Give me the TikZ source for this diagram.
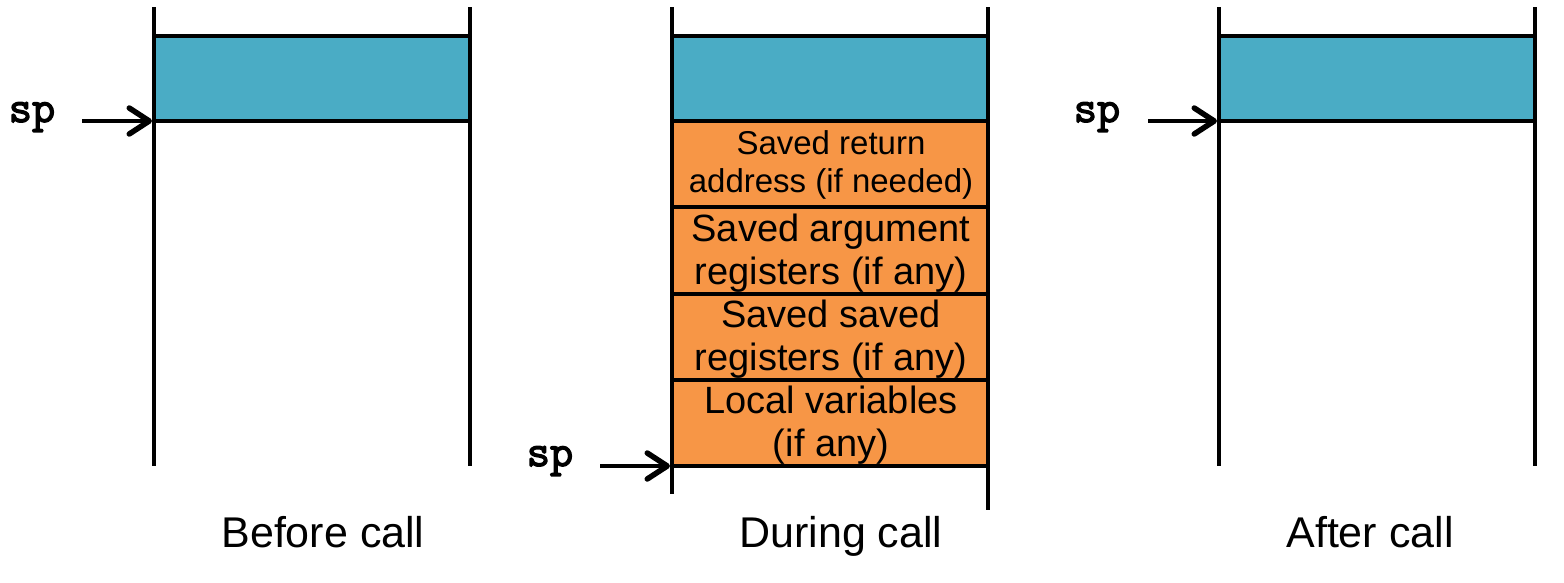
\documentclass[tikz,border=0pt]{standalone}
\usepackage{fontspec}
\setmainfont{Liberation Sans}
\newfontfamily\spfont[FakeBold=3]{Latin Modern Mono}
\usetikzlibrary{arrows.meta}
\definecolor{tealc}{HTML}{4AACC5}
\definecolor{orng}{HTML}{F79646}
\tikzset{
  wall/.style={line width=4pt},
  frame/.style={draw, line width=4pt},
  spl/.style={font=\spfont\fontsize{45}{45}\selectfont, inner sep=0pt, anchor=base},
  spar/.style={line width=4.5pt, -{Straight Barb[length=20pt,width=26pt,line width=5.5pt,line cap=round,line join=round]}, shorten >=2pt},
  lbl/.style={font=\fontsize{43}{43}\selectfont, inner sep=0pt, anchor=base},
  slot/.style={align=center, inner sep=0pt},
}
\begin{document}
\begin{tikzpicture}[x=1pt,y=-1pt]
\useasboundingbox (0,0) rectangle (1564,582);
% Before call
\filldraw[frame, fill=tealc] (154,36) rectangle (470,121);
\draw[wall] (154,7) -- (154,466);
\draw[wall] (470,7) -- (470,466);
\node[spl] (sp1) at (32,122) {sp};
\coordinate (t1) at (154,121);
\draw[spar] (82,121) -- (t1);
\node[lbl] (c1) at (323,547) {Before call};
% During call
\filldraw[frame, fill=tealc] (672,36) rectangle (988,121);
\filldraw[frame, fill=orng] (672,121) rectangle (988,207);
\filldraw[frame, fill=orng] (672,207) rectangle (988,294);
\filldraw[frame, fill=orng] (672,294) rectangle (988,380);
\filldraw[frame, fill=orng] (672,380) rectangle (988,466);
\draw[wall] (672,7) -- (672,494);
\draw[wall] (988,7) -- (988,510);
\node[slot, font=\fontsize{33}{38}\selectfont] (b1) at (831,165) {Saved return\\address (if needed)};
\node[slot, font=\fontsize{38}{43}\selectfont] (b2) at (831,253) {Saved argument\\registers (if any)};
\node[slot, font=\fontsize{38}{43}\selectfont] (b3) at (831,339) {Saved saved\\registers (if any)};
\node[slot, font=\fontsize{38}{43}\selectfont] (b4) at (831,425) {Local variables\\(if any)};
\node[spl] (sp2) at (550,466) {sp};
\coordinate (t2) at (672,466);
\draw[spar] (600,466) -- (t2);
\node[lbl] (c2) at (841,547) {During call};
% After call
\filldraw[frame, fill=tealc] (1219,36) rectangle (1535,121);
\draw[wall] (1219,7) -- (1219,466);
\draw[wall] (1535,7) -- (1535,466);
\node[spl] (sp3) at (1097,122) {sp};
\coordinate (t3) at (1219,121);
\draw[spar] (1148,121) -- (t3);
\node[lbl] (c3) at (1370,547) {After call};
\end{tikzpicture}
\end{document}
